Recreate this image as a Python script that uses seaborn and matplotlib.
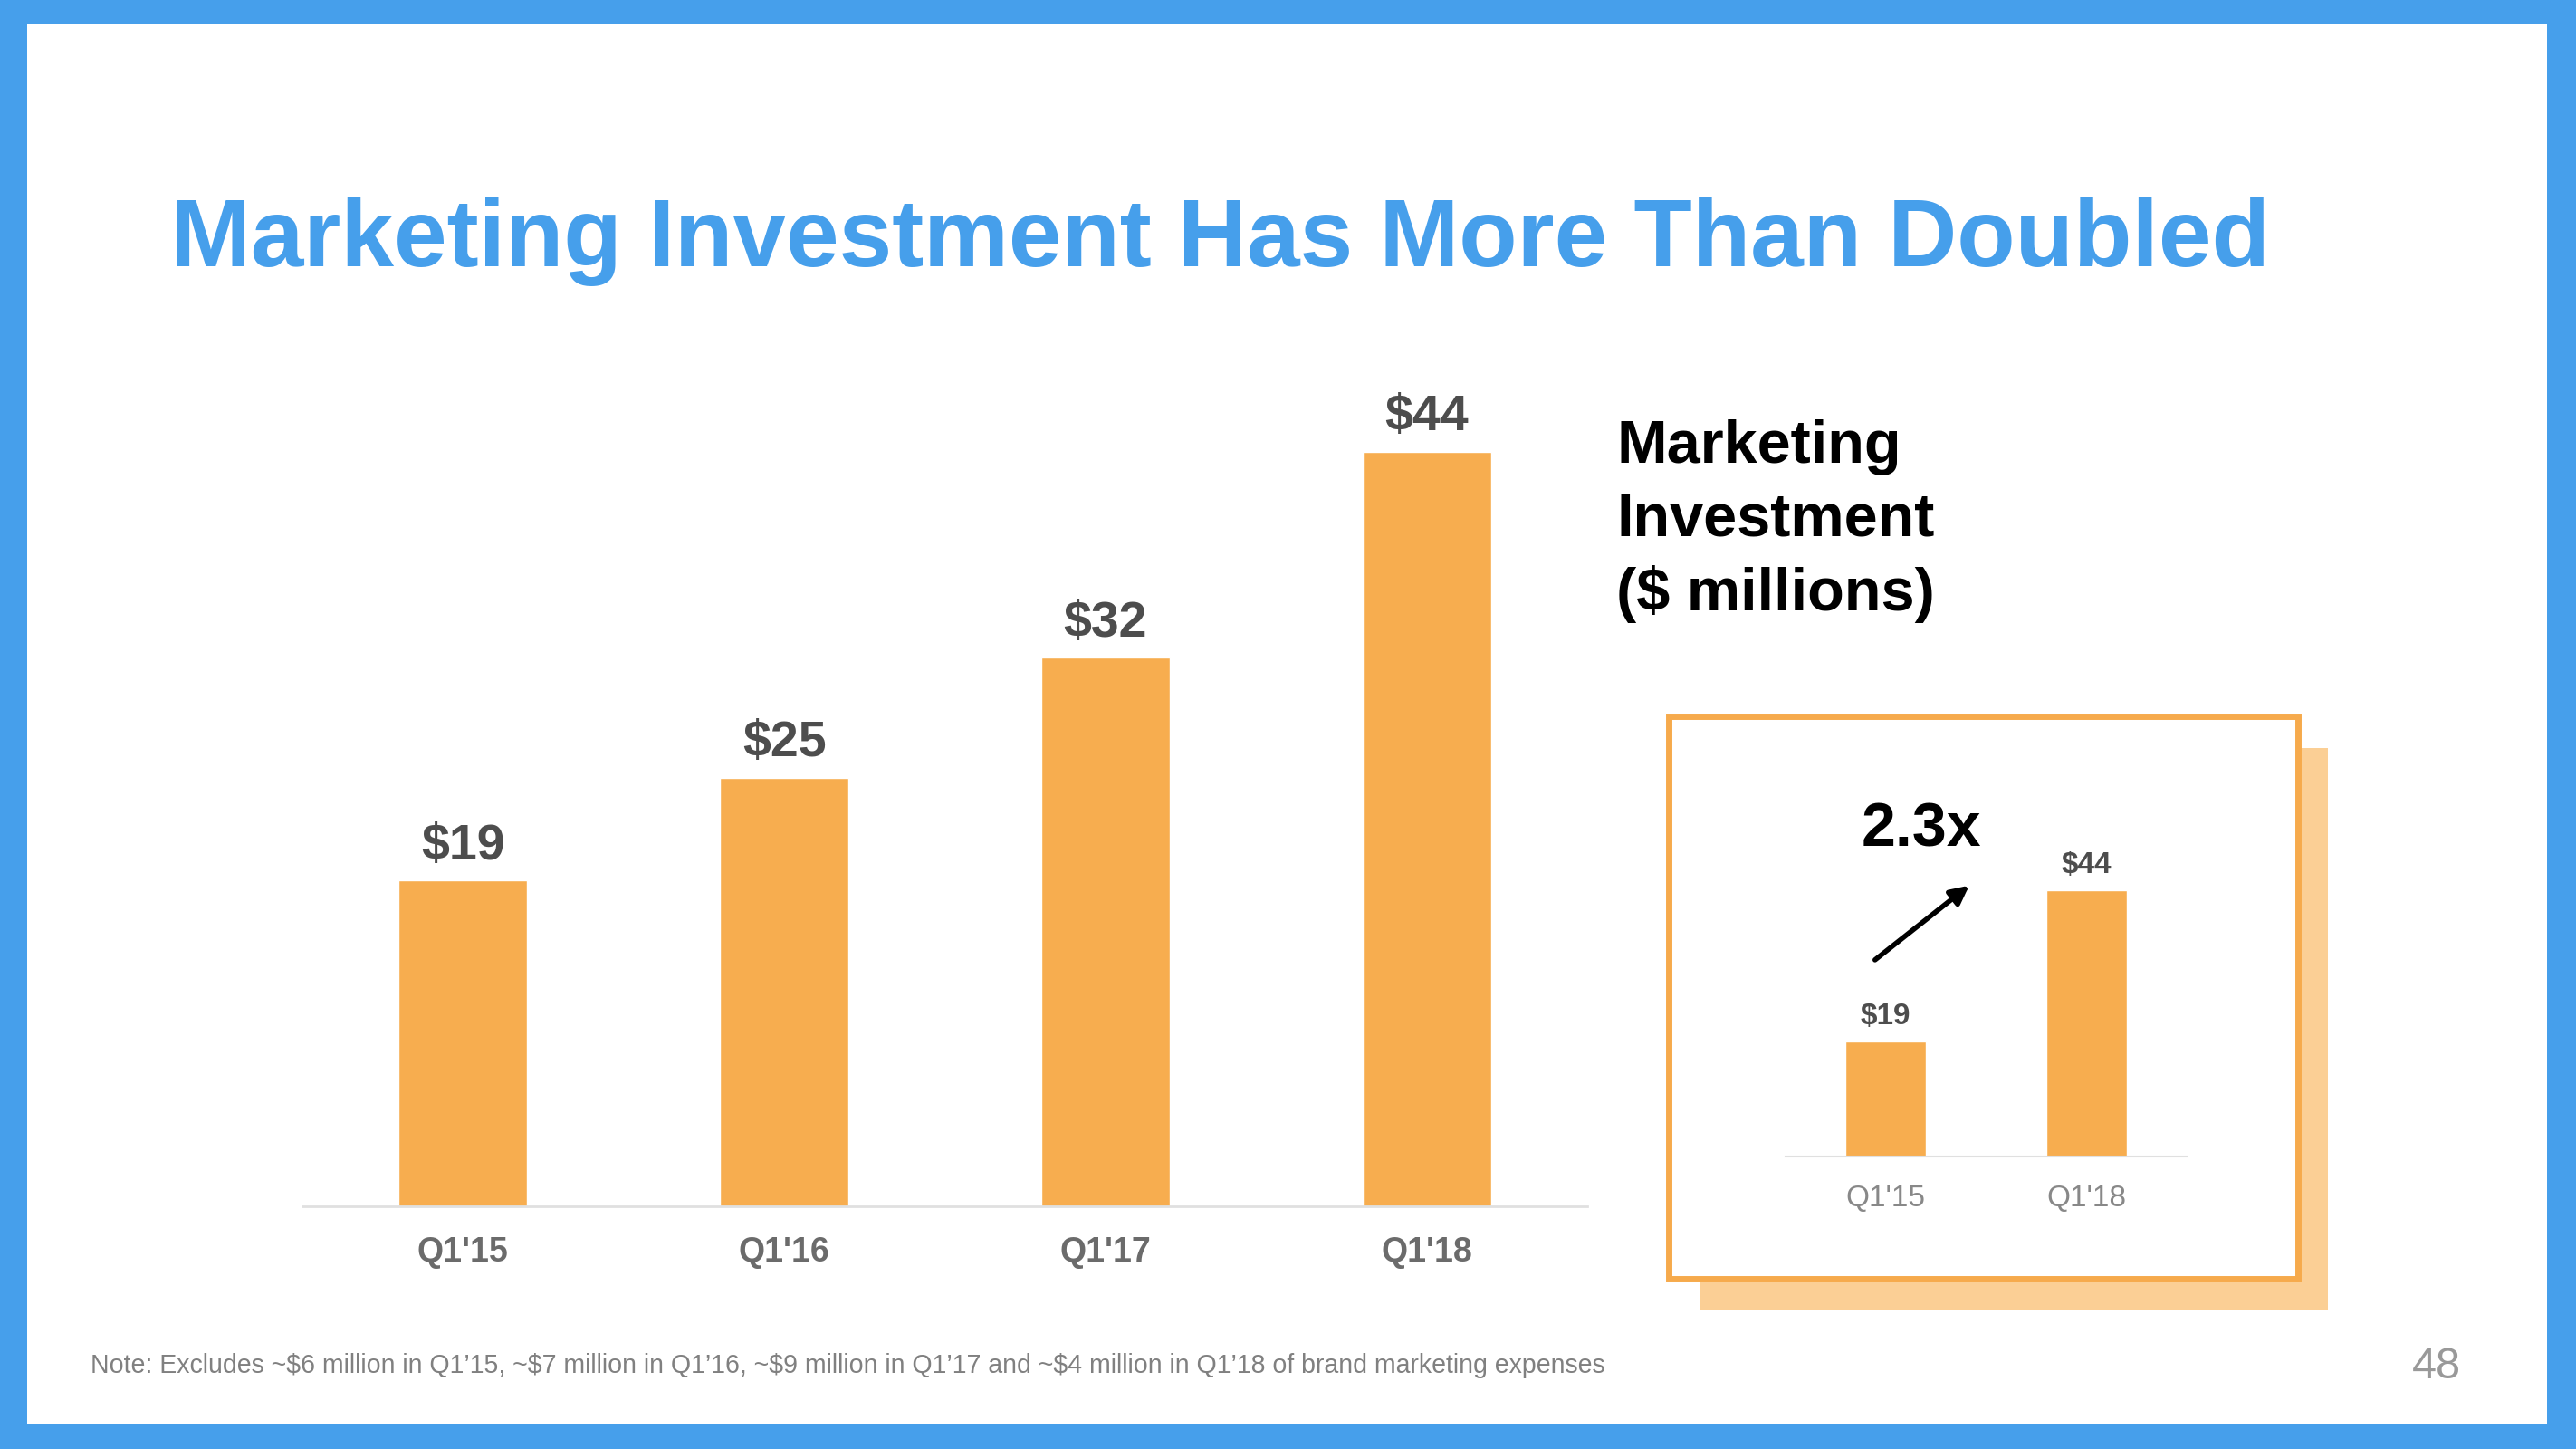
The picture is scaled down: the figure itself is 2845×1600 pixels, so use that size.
import matplotlib
matplotlib.use("Agg")
import matplotlib.pyplot as plt
from matplotlib.patches import Rectangle
import pandas as pd
import seaborn as sns

# ---- data ----
quarters = ["Q1'15", "Q1'16", "Q1'17", "Q1'18"]
investment = [19, 25, 32, 44]
inset_quarters = ["Q1'15", "Q1'18"]
inset_investment = [19, 44]

title = "Marketing Investment Has More Than Doubled"
side_label = "Marketing\nInvestment\n(\\$ millions)"
note = ("Note: Excludes ~\\$6 million in Q1\u201915, ~\\$7 million in Q1\u201916, "
        "~\\$9 million in Q1\u201917 and ~\\$4 million in Q1\u201918 of brand marketing expenses")
page_number = "48"

# ---- styles ----
BLUE = "#469FEB"
BAR = "#F7AD4F"
FRAME = "#F6AA4C"
SHADOW = "#FBCF95"
W, H = 2845, 1600

sns.set_theme(style="white")
plt.rcParams["font.family"] = ["Liberation Sans", "DejaVu Sans"]

fig = plt.figure(figsize=(W / 100, H / 100), dpi=100)
fig.patch.set_facecolor(BLUE)


def fx(px):
    return px / W


def fy(py):
    return 1 - py / H


def rect(x0, y0, x1, y1, **kw):
    r = Rectangle((fx(x0), fy(y1)), fx(x1) - fx(x0), fy(y0) - fy(y1),
                  transform=fig.transFigure, **kw)
    fig.add_artist(r)
    return r


# white slide area
rect(30, 27, 2813, 1572, facecolor="white", edgecolor="none", zorder=0.5)
# inset shadow + frame
rect(1878, 826, 2571, 1446, facecolor=SHADOW, edgecolor="none", zorder=1)
rect(1843, 791, 2538, 1412, facecolor="white", edgecolor=FRAME, linewidth=5, zorder=2)

# ---- main chart ----
df = pd.DataFrame({"quarter": quarters, "value": investment})
ax = fig.add_axes([fx(334), fy(1332), fx(1753) - fx(334), 50 * 18.93 / H])
ax.set_zorder(3)
ax.patch.set_alpha(0)
sns.barplot(data=df, x="quarter", y="value", color=BAR, saturation=1,
            width=0.4, ax=ax)
ax.set_xlim(-0.5, 3.5)
ax.set_ylim(0, 50)
ax.set_xlabel("")
ax.set_ylabel("")
ax.set_yticks([])
for s in ["top", "left", "right"]:
    ax.spines[s].set_visible(False)
ax.spines["bottom"].set_color("#E0E0E0")
ax.spines["bottom"].set_linewidth(2)
ax.tick_params(axis="x", length=0, pad=24, labelsize=27, labelcolor="#6B6B6B")
for lab in ax.get_xticklabels():
    lab.set_fontweight("bold")
for i, v in enumerate(investment):
    ax.annotate(f"\\${v}", xy=(i, v), xytext=(0, 17), textcoords="offset points",
                ha="center", va="baseline", fontsize=40, fontweight="bold",
                color="#4D4D4D")

# ---- inset chart ----
dfi = pd.DataFrame({"quarter": inset_quarters, "value": inset_investment})
axi = fig.add_axes([fx(1972), fy(1277), fx(2415) - fx(1972), 50 * 6.68 / H])
axi.set_zorder(4)
axi.patch.set_alpha(0)
sns.barplot(data=dfi, x="quarter", y="value", color=BAR, saturation=1,
            width=0.4, ax=axi)
axi.set_xlim(-0.5, 1.5)
axi.set_ylim(0, 50)
axi.set_xlabel("")
axi.set_ylabel("")
axi.set_yticks([])
for s in ["top", "left", "right"]:
    axi.spines[s].set_visible(False)
axi.spines["bottom"].set_color("#E0E0E0")
axi.spines["bottom"].set_linewidth(1.5)
axi.tick_params(axis="x", length=0, pad=22, labelsize=24, labelcolor="#888888")
for i, v in enumerate(inset_investment):
    axi.annotate(f"\\${v}", xy=(i, v), xytext=(0, 14), textcoords="offset points",
                 ha="center", va="baseline", fontsize=24, fontweight="bold",
                 color="#4D4D4D")
ratio = inset_investment[-1] / inset_investment[0]
axi.annotate("", xy=(0.416, 44.8), xytext=(-0.054, 32.5), xycoords="data",
             arrowprops=dict(arrowstyle="-|>,head_length=1.0,head_width=0.5",
                             color="black", lw=4, shrinkA=0, shrinkB=0),
             annotation_clip=False)
axi.text(0.176, 54.0, f"{ratio:.1f}x", ha="center", va="center", fontsize=49,
         fontweight="bold", color="black", clip_on=False)

# ---- texts ----
renderer = fig.canvas.get_renderer()


def fit_text(x, y, s, target_w, size, **kw):
    t = fig.text(x, y, s, fontsize=size, **kw)
    w = t.get_window_extent(renderer).width
    t.set_fontsize(size * target_w / w)
    return t


fit_text(fx(189), fy(266), title, 2317, 76, ha="left", va="center",
         fontweight="bold", color=BLUE)
fig.text(fx(1785), fy(463), side_label, ha="left", va="top", fontsize=48,
         fontweight="bold", color="black", linespacing=1.38)
fit_text(fx(100), fy(1508), note, 1676, 20, ha="left", va="center",
         color="#808080")
fig.text(fx(2691), fy(1509), page_number, ha="center", va="center",
         fontsize=35, color="#999999")

fig.savefig("out.png", dpi=100, facecolor=fig.get_facecolor())
